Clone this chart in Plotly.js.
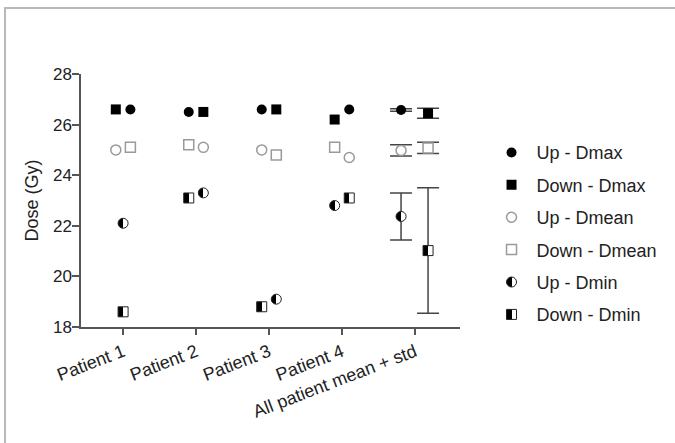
<!DOCTYPE html>
<html><head><meta charset="utf-8">
<script src="https://cdn.plot.ly/plotly-3.0.1.min.js"></script>
<style>
html,body{margin:0;padding:0;background:#fff;}
#wrap{position:relative;width:675px;height:443px;overflow:hidden;}
#chart{width:675px;height:443px;}
#frame{position:absolute;left:4px;top:7px;right:-10px;bottom:-10px;border-top:2px solid #b8b8b8;border-left:2px solid #b8b8b8;pointer-events:none;}
</style></head><body>
<div id="wrap"><div id="chart"></div><div id="frame"></div></div>
<script>
// ---- data ----
const categories = ['Patient 1', 'Patient 2', 'Patient 3', 'Patient 4', 'All patient mean + std'];
const seriesNames = ['Up - Dmax', 'Down - Dmax', 'Up - Dmean', 'Down - Dmean', 'Up - Dmin', 'Down - Dmin'];
const upDmax    = [26.6, 26.5, 26.6, 26.6];
const downDmax  = [26.6, 26.5, 26.6, 26.2];
const upDmean   = [25.0, 25.1, 25.0, 24.7];
const downDmean = [25.1, 25.2, 24.8, 25.1];
const upDmin    = [22.1, 23.3, 19.1, 22.8];
const downDmin  = [18.6, 23.1, 18.8, 23.1];
// all-patient summary, same order as seriesNames
const allMean = [26.58, 26.45, 24.98, 25.08, 22.37, 21.02];
const allStd  = [0.05, 0.20, 0.22, 0.22, 0.93, 2.48];

const seriesValues = [upDmax, downDmax, upDmean, downDmean, upDmin, downDmin];

// ---- display (column-scatter spread, styles) ----
const spread = [
  [ 0.10, -0.10, -0.10,  0.10, -0.19],
  [-0.10,  0.10,  0.10, -0.10,  0.18],
  [-0.10,  0.10, -0.10,  0.10, -0.19],
  [ 0.10, -0.10,  0.10, -0.10,  0.18],
  [ 0.00,  0.10,  0.10, -0.10, -0.19],
  [ 0.00, -0.10, -0.10,  0.10,  0.18]
];
const markerStyles = [
  {symbol: 'circle', color: '#000', size: 10, line: {color: '#000', width: 0}},
  {symbol: 'square', color: '#000', size: 10, line: {color: '#000', width: 0}},
  {symbol: 'circle', color: '#fff', size: 10, line: {color: '#9a9a9a', width: 1.5}},
  {symbol: 'square', color: '#fff', size: 10, line: {color: '#9a9a9a', width: 1.5}},
  {symbol: 'circle', color: '#000', size: 10, line: {color: '#222', width: 1}, gradient: {type: 'horizontal', color: '#fff'}},
  {symbol: 'square', color: '#000', size: 10, line: {color: '#222', width: 1}, gradient: {type: 'horizontal', color: '#fff'}}
];

const FONT = 'Liberation Sans, Arial, sans-serif';
const traces = [];
seriesNames.forEach((name, i) => {
  const vals = seriesValues[i];
  traces.push({
    type: 'scatter', mode: 'markers', name: name, legendgroup: 'g' + i,
    x: vals.map((v, j) => j + spread[i][j]),
    y: vals,
    marker: markerStyles[i],
    hoverinfo: 'y+name'
  });
  traces.push({
    type: 'scatter', mode: 'markers', name: name, legendgroup: 'g' + i, showlegend: false,
    x: [categories.length - 1 + spread[i][4]],
    y: [allMean[i]],
    marker: markerStyles[i],
    error_y: {type: 'data', array: [allStd[i]], visible: true, color: '#444', thickness: 1.5, width: 11}
  });
});

const layout = {
  width: 675, height: 443,
  paper_bgcolor: 'rgba(0,0,0,0)', plot_bgcolor: 'rgba(0,0,0,0)',
  margin: {l: 81, r: 213, t: 74, b: 116},
  font: {family: FONT, color: '#222'},
  showlegend: true,
  xaxis: {
    range: [-0.577, 4.618], tickmode: 'array', tickvals: categories.map((c, i) => i), ticktext: categories,
    tickangle: -21, ticks: 'outside', ticklen: 6, tickwidth: 1.5, tickcolor: '#555',
    showline: true, linecolor: '#555', linewidth: 1.5, showgrid: false, zeroline: false,
    tickfont: {family: FONT, size: 18, color: '#222'}
  },
  yaxis: {
    range: [18, 28], tick0: 18, dtick: 2, ticks: 'outside', ticklen: 7, tickwidth: 1.5, tickcolor: '#555',
    showline: true, linecolor: '#555', linewidth: 1.5, showgrid: false, zeroline: false,
    ticklabelstandoff: -3,
    tickfont: {family: FONT, size: 17, color: '#222'},
    title: {text: 'Dose (Gy)', font: {family: FONT, size: 18, color: '#222'}, standoff: 10}
  },
  legend: {
    x: 1.07, xanchor: 'left', y: 0.762, yanchor: 'top',
    font: {family: FONT, size: 18, color: '#222'},
    tracegroupgap: 6, itemwidth: 40, bgcolor: 'rgba(0,0,0,0)'
  }
};

function sharpenGradients(gd) {
  gd.querySelectorAll('linearGradient').forEach(lg => {
    const stops = lg.querySelectorAll('stop');
    if (stops.length !== 2) return;
    const a = stops[0], b = stops[1];
    const a2 = a.cloneNode(true), b2 = b.cloneNode(true);
    a.setAttribute('offset', '0%');
    a2.setAttribute('offset', '50%');
    b2.setAttribute('offset', '50%');
    b.setAttribute('offset', '100%');
    lg.insertBefore(a2, b);
    lg.insertBefore(b2, b);
  });
}

Plotly.newPlot('chart', traces, layout, {displayModeBar: false, responsive: false}).then(gd => {
  sharpenGradients(gd);
});
</script>
</body></html>
